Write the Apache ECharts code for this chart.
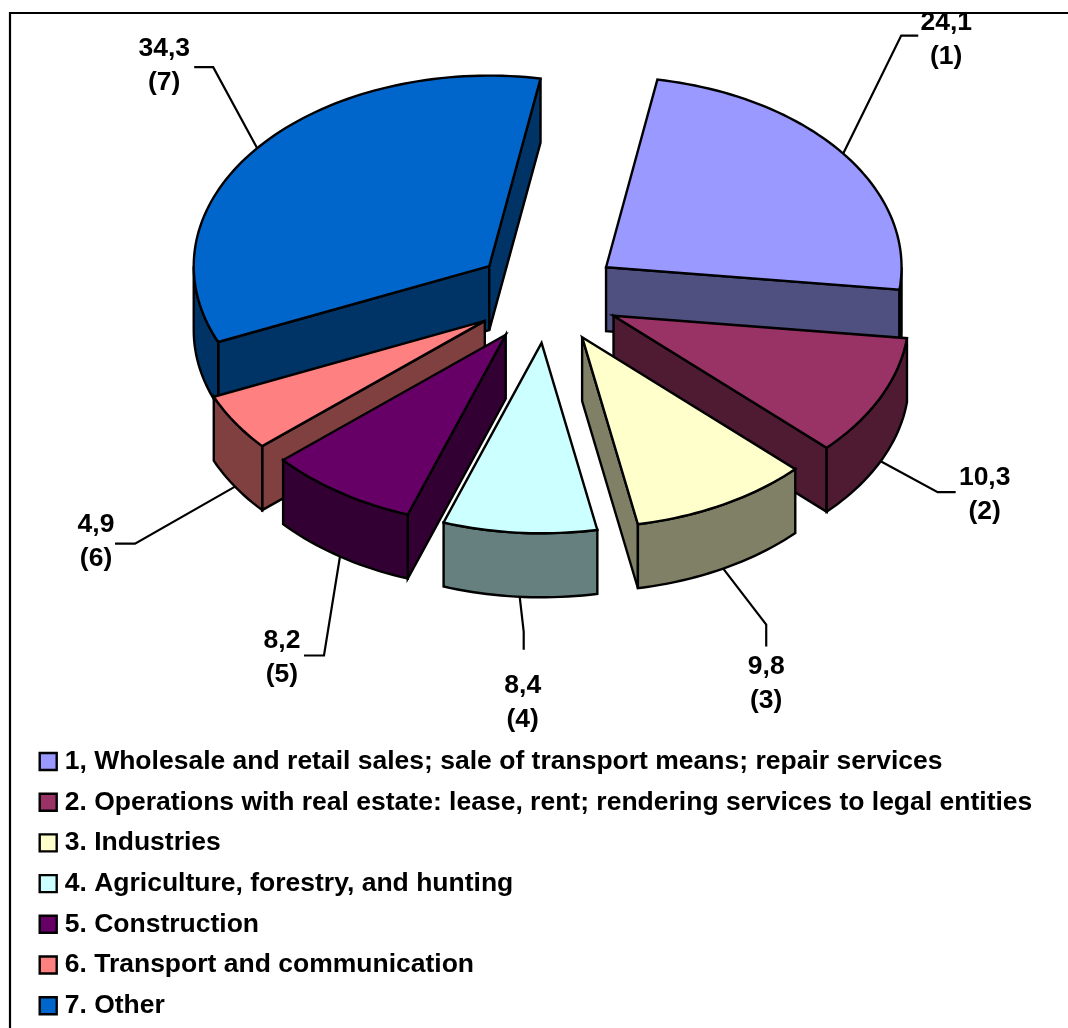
<!DOCTYPE html>
<html>
<head>
<meta charset="utf-8">
<title>Sector shares</title>
<style>
  html, body { margin: 0; padding: 0; background: #fff; }
  #chart { width: 1068px; height: 1028px; }
</style>
<script src="https://cdn.jsdelivr.net/npm/echarts@6/dist/echarts.min.js"></script>
</head>
<body>
<div id="chart"></div>
<script>
// Sector names, in legend order
const categories = [
  '1, Wholesale and retail sales; sale of transport means; repair services',
  '2. Operations with real estate: lease, rent; rendering services to legal entities',
  '3. Industries',
  '4. Agriculture, forestry, and hunting',
  '5. Construction',
  '6. Transport and communication',
  '7. Other'
];
// Share of each sector, percent
const shares = [24.1, 10.3, 9.8, 8.4, 8.2, 4.9, 34.3];
// Top-face and side-face fills
const topColors = ['#9999ff', '#993366', '#ffffcc', '#ccffff', '#660066', '#ff8080', '#0066cc'];
const wallColors = ['#4f4f80', '#4f1b33', '#808066', '#668080', '#330033', '#804040', '#003366'];

// Pie projection
const CX = 547, CY = 295.5, RX = 295.5, RY = 190.5, DEPTH = 64, PULL = 0.249, START_DEG = 10;
const FONT = '"Liberation Sans", Arial, sans-serif';
const LABEL_SIZE = 26.5, LINE_GAP = 34;

// Leader routing relative to the rim point at each slice's mid angle:
// [elbow dx, elbow dy, end dx, end dy, label dx, label dy]
const leaders = [
  [58, -118, 75, -118, 103, -114],
  [57, 31, 75, 31, 104, 34],
  [43, 56, 43, 78, 43, 115],
  [4, 35, 4, 53, 3, 106],
  [-16, 99, -36, 99, -58, 101],
  [-100, 57, -120, 57, -139, 55],
  [-44, -81, -63, -81, -93, -82]
];

const RAD = Math.PI / 180;
const total = shares.reduce((a, b) => a + b, 0);

// Angular range of each slice, clockwise from the top
const ranges = [];
shares.reduce((from, v) => {
  const to = from + v / total * 360;
  ranges.push([from, to]);
  return to;
}, START_DEG);

function rim(apex, deg) {
  return [apex[0] + RX * Math.sin(deg * RAD), apex[1] - RY * Math.cos(deg * RAD)];
}
function arcPoints(apex, a, b) {
  const n = Math.max(2, Math.ceil(Math.abs(b - a) / 1.5));
  const pts = [];
  for (let i = 0; i <= n; i++) pts.push(rim(apex, a + (b - a) * i / n));
  return pts;
}
const drop = p => [p[0], p[1] + DEPTH];

function renderSlice(index, value) {
  const [a, b] = ranges[index];
  const mid = (a + b) / 2;
  const apex = [CX + PULL * RX * Math.sin(mid * RAD), CY - PULL * RY * Math.cos(mid * RAD)];
  const edge = { stroke: '#000', lineWidth: 2.4, lineJoin: 'miter', miterLimit: 6 };
  const wall = Object.assign({ fill: wallColors[index] }, edge);
  const children = [];

  // Leader line, attached to the rim or, on the near half, to the lower wall edge
  const cosMid = Math.cos(mid * RAD);
  const anchor = cosMid < 0 ? drop(rim(apex, mid)) : rim(apex, mid);
  const L = leaders[index];
  children.push({
    type: 'polyline',
    shape: { points: [anchor, [anchor[0] + L[0], anchor[1] + L[1]], [anchor[0] + L[2], anchor[1] + L[3]]] },
    style: { stroke: '#000', lineWidth: 2.2, fill: null }
  });

  // Radial walls that face the viewer
  const radialWall = deg => {
    const p = rim(apex, deg);
    children.push({ type: 'polygon', shape: { points: [apex, p, drop(p), drop(apex)] }, style: wall });
  };
  if (Math.sin(a * RAD) < 0) radialWall(a);
  if (Math.sin(b * RAD) > 0) radialWall(b);

  // Curved outer wall on the near half of the ellipse
  const from = Math.max(a, 90), to = Math.min(b, 270);
  if (to > from) {
    const upper = arcPoints(apex, from, to);
    const lower = upper.map(drop).reverse();
    children.push({ type: 'polygon', shape: { points: upper.concat(lower) }, style: wall });
  }

  // Top face
  children.push({
    type: 'polygon',
    shape: { points: [apex].concat(arcPoints(apex, a, b)) },
    style: Object.assign({ fill: topColors[index] }, edge)
  });

  // Value and sector number
  const valueText = String(value).replace('.', ',');
  [valueText, '(' + (index + 1) + ')'].forEach((t, row) => {
    children.push({
      type: 'text',
      style: {
        x: anchor[0] + L[4],
        y: anchor[1] + L[5] + (row - 0.5) * LINE_GAP,
        text: t,
        fill: '#000',
        font: 'bold ' + LABEL_SIZE + 'px ' + FONT,
        align: 'center',
        verticalAlign: 'middle'
      }
    });
  });
  return { type: 'group', children };
}

// Back slices paint first, so nearer ones overlap them
const order = shares
  .map((_, i) => i)
  .sort((p, q) => Math.cos((ranges[q][0] + ranges[q][1]) / 2 * RAD) - Math.cos((ranges[p][0] + ranges[p][1]) / 2 * RAD));

const series = shares.map((v, i) => ({
  type: 'custom',
  name: categories[i],
  coordinateSystem: 'none',
  z: 2 + order.indexOf(i),
  silent: true,
  animation: false,
  clip: false,
  itemStyle: { color: topColors[i] },
  data: [[v]],
  renderItem: (params, api) => renderSlice(i, api.value(0))
}));

const chart = echarts.init(document.getElementById('chart'), null, { renderer: 'canvas' });
chart.setOption({
  backgroundColor: '#fff',
  animation: false,
  legend: {
    orient: 'vertical',
    left: 38.5,
    top: 748,
    padding: 0,
    icon: 'rect',
    itemWidth: 17,
    itemHeight: 17,
    itemGap: 13.7,
    selectedMode: false,
    itemStyle: { borderColor: '#000', borderWidth: 2.4 },
    textStyle: {
      fontFamily: FONT,
      fontWeight: 'bold',
      fontSize: 26.5,
      color: '#000',
      padding: [0, 0, 0, 3]
    },
    data: categories
  },
  series,
  // Frame along the top and left; the band above it trims whatever crosses the top line
  graphic: {
    elements: [
      { type: 'rect', z: 100, shape: { x: 0, y: 0, width: 1068, height: 13 }, style: { fill: '#fff' } },
      { type: 'polyline', z: 101, shape: { points: [[10, 1028], [10, 13], [1068, 13]] },
        style: { stroke: '#000', lineWidth: 2.2, fill: null } }
    ]
  }
});
</script>
</body>
</html>
